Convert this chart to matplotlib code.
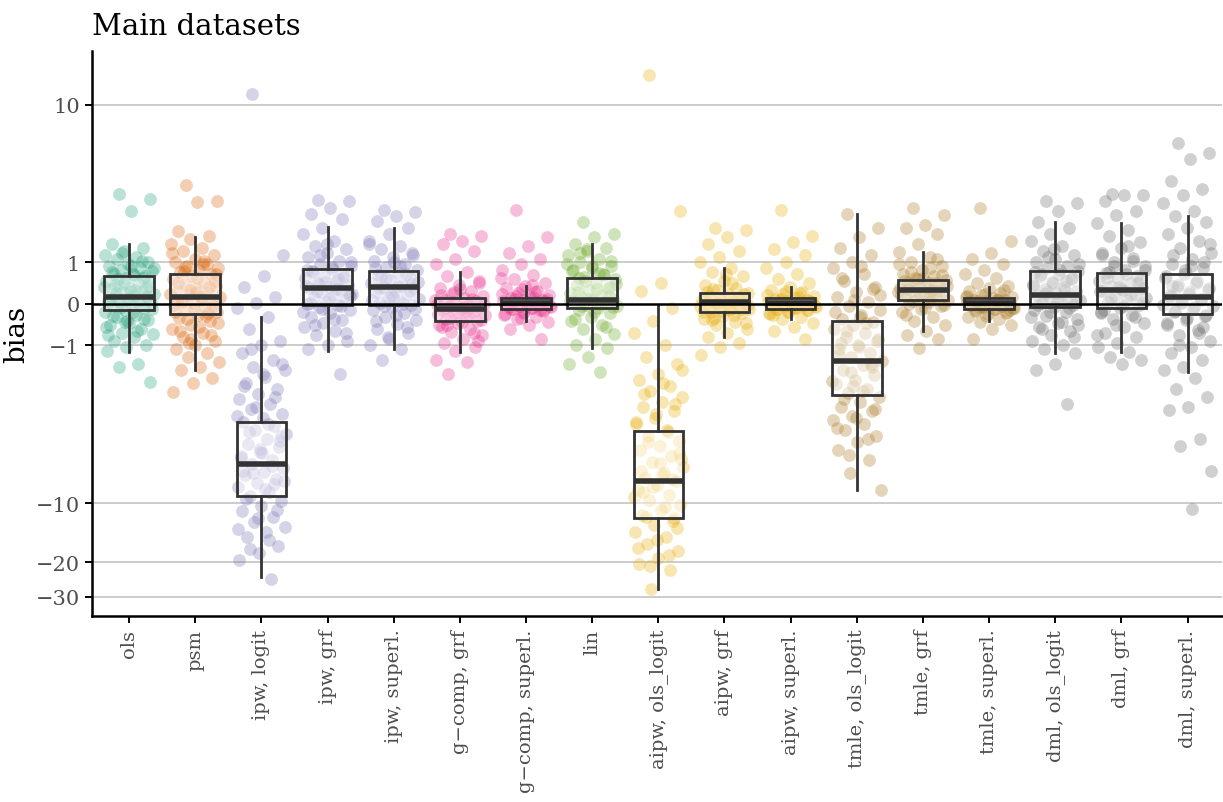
import numpy as np
import matplotlib

matplotlib.use("Agg")
import matplotlib.pyplot as plt

methods = [
    "ols", "psm", "ipw, logit", "ipw, grf", "ipw, superl.", "g\u2212comp, grf",
    "g\u2212comp, superl.", "lin", "aipw, ols_logit", "aipw, grf", "aipw, superl.",
    "tmle, ols_logit", "tmle, grf", "tmle, superl.", "dml, ols_logit", "dml, grf",
    "dml, superl.",
]
family = ["ols", "psm", "ipw", "ipw", "ipw", "gcomp", "gcomp", "lin", "aipw", "aipw",
          "aipw", "tmle", "tmle", "tmle", "dml", "dml", "dml"]

# box summaries per method
q1 = [-0.14, -0.23, -9.2, -0.02, -0.02, -0.4, -0.12, -0.09, -11.9, -0.18, -0.12,
      -2.55, 0.08, -0.12, -0.08, -0.1, -0.23]
med = [0.16, 0.16, -6.26, 0.37, 0.4, -0.12, 0.01, 0.09, -7.7, 0.04, 0.02,
       -1.42, 0.33, 0.01, 0.21, 0.33, 0.16]
q3 = [0.66, 0.71, -3.7, 0.84, 0.79, 0.14, 0.14, 0.61, -4.14, 0.26, 0.14,
      -0.4, 0.56, 0.14, 0.79, 0.74, 0.71]
whislo = [-1.17, -1.69, -23.8, -1.14, -1.1, -1.17, -0.4, -1.07, -27.4, -0.8, -0.36,
          -8.6, -0.63, -0.4, -1.2, -1.17, -1.74]
whishi = [1.51, 1.7, -0.3, 2.04, 2.0, 0.76, 0.42, 1.5, -0.02, 0.86, 0.39,
          2.5, 1.28, 0.4, 2.2, 2.17, 2.4]

# per-dataset bias estimates
ols = [3.3, 3.1, 2.6, 1.5, 1.4, 1.3, 1.2, 1.15, 1.1, 1.0, 0.95, 0.9, 0.85, 0.8, 0.78,
       0.72, 0.7, 0.66, 0.6, 0.55, 0.5, 0.45, 0.42, 0.38, 0.35, 0.3, 0.27, 0.22, 0.2,
       0.17, 0.15, 0.12, 0.1, 0.08, 0.05, 0.02, -0.02, -0.05, -0.1, -0.14, -0.18,
       -0.25, -0.3, -0.38, -0.45, -0.5, -0.6, -0.68, -0.72, -0.8, -0.9, -1.0, -1.05,
       -1.15, -1.5, -1.6, -2.07, 0.9, 0.75, 0.62, 0.48, 0.4, 0.33, 0.25, 0.18, 0.11,
       0.04, -0.03, -0.08, -0.12, -0.2, -0.28, -0.35, -0.42, -0.55, -0.65, 0.58, 0.52,
       0.3, 0.14, 1.05, 1.25, 0.85, 0.68, 0.44, 0.36, -0.4, -0.75]
psm = [3.75, 3.0, 2.95, 1.9, 1.75, 1.65, 1.5, 1.4, 1.3, 1.2, 1.1, 1.0, 0.95, 0.9, 0.85,
       0.8, 0.75, 0.7, 0.65, 0.58, 0.52, 0.47, 0.42, 0.36, 0.3, 0.25, 0.2, 0.17, 0.15,
       0.1, 0.06, 0.02, -0.03, -0.08, -0.14, -0.2, -0.25, -0.32, -0.4, -0.5, -0.6,
       -0.7, -0.8, -0.9, -1.0, -1.1, -1.2, -1.3, -1.45, -1.6, -1.7, -1.95, -2.1, -2.43,
       1.05, 0.88, 0.72, 0.6, 0.5, 0.4, 0.33, 0.22, 0.12, 0.04, -0.05, -0.12, -0.18,
       -0.28, -0.36, -0.45, -0.55, -0.65, -0.75, -0.85, 1.25, 0.95, 0.78, 0.55, 0.27,
       0.08, -0.22, -0.95]
ipw_logit = [11.4, 1.2, 0.66, 0.4, 0.15, 0.02, -0.1, -0.3, -0.6, -0.9, -1.0, -1.2, -1.4,
             -1.6, -1.7, -1.9, -2.1, -2.3, -2.5, -2.7, -2.9, -3.1, -3.3, -3.5, -3.7,
             -3.9, -4.1, -4.3, -4.6, -4.9, -5.1, -5.4, -5.7, -6.0, -6.3, -6.6, -6.9,
             -7.2, -7.5, -7.9, -8.3, -8.8, -9.2, -9.8, -10.4, -11.0, -11.8, -12.5,
             -13.2, -14.0, -15.0, -16.5, -18.0, -19.5, -24.5, -1.1, -1.5, -1.8, -2.2,
             -2.6, -3.0, -3.4, -3.8, -4.2, -4.7, -5.2, -5.8, -6.4, -7.0, -7.7, -8.5,
             -9.5, -10.8, -12.0, -13.6, -15.5, -17.2, -4.4, -5.5, -6.8, -8.0]
ipw_grf = [3.05, 3.0, 2.7, 2.5, 2.3, 2.0, 1.8, 1.6, 1.45, 1.35, 1.25, 1.15, 1.05, 0.95,
           0.9, 0.84, 0.78, 0.72, 0.66, 0.6, 0.55, 0.5, 0.45, 0.4, 0.37, 0.33, 0.28,
           0.24, 0.2, 0.15, 0.1, 0.05, 0.0, -0.03, -0.08, -0.15, -0.22, -0.3, -0.38,
           -0.45, -0.55, -0.65, -0.75, -0.9, -1.0, -1.1, -1.8, 1.2, 1.0, 0.88, 0.75,
           0.63, 0.52, 0.42, 0.35, 0.3, 0.22, 0.12, 0.02, -0.05, -0.12, -0.2, -0.35,
           -0.5, -0.7, 1.5, 0.8, 0.58, 0.47, 0.18]
ipw_superl = [2.65, 2.55, 2.4, 2.25, 2.0, 1.8, 1.6, 1.45, 1.35, 1.25, 1.15, 1.05, 0.95,
              0.88, 0.8, 0.74, 0.68, 0.62, 0.56, 0.5, 0.45, 0.4, 0.36, 0.32, 0.27, 0.22,
              0.17, 0.12, 0.07, 0.02, -0.02, -0.08, -0.15, -0.22, -0.3, -0.38, -0.48,
              -0.58, -0.7, -0.85, -1.0, -1.1, -1.4, 1.2, 1.0, 0.85, 0.72, 0.6, 0.52,
              0.43, 0.38, 0.3, 0.2, 0.1, 0.0, -0.05, -0.12, -0.25, -0.4, -0.55, -0.8,
              1.5, 0.9, 0.65, 0.47, 0.15]
gcomp_grf = [1.8, 1.75, 1.6, 1.5, 1.3, 1.1, 0.95, 0.76, 0.65, 0.55, 0.45, 0.38, 0.3,
             0.24, 0.18, 0.14, 0.1, 0.06, 0.03, 0.0, -0.03, -0.06, -0.09, -0.12, -0.15,
             -0.18, -0.22, -0.26, -0.3, -0.35, -0.4, -0.45, -0.5, -0.58, -0.66, -0.75,
             -0.85, -0.95, -1.05, -1.15, -1.4, -1.45, -1.8, 0.5, 0.35, 0.2, 0.12, 0.05,
             -0.01, -0.07, -0.1, -0.14, -0.2, -0.24, -0.28, -0.33, -0.38, -0.43, -0.55,
             -0.7, 0.27, 0.08, -0.16, -0.5, -0.9]
gcomp_superl = [2.65, 1.7, 1.45, 1.25, 1.1, 0.95, 0.8, 0.68, 0.58, 0.5, 0.42, 0.36, 0.3,
                0.25, 0.2, 0.16, 0.13, 0.1, 0.08, 0.06, 0.04, 0.02, 0.01, 0.0, -0.01,
                -0.03, -0.05, -0.07, -0.09, -0.12, -0.15, -0.19, -0.24, -0.3, -0.36,
                -0.42, -0.5, -0.6, -0.85, 0.35, 0.22, 0.15, 0.11, 0.07, 0.03, 0.01,
                -0.02, -0.04, -0.06, -0.1, -0.13, -0.17, -0.21, -0.27, 0.28, 0.18,
                0.12, 0.05, -0.08, -0.14, -0.33, 0.62, 0.45]
lin = [2.2, 1.8, 1.7, 1.5, 1.4, 1.3, 1.2, 1.1, 1.0, 0.92, 0.85, 0.78, 0.7, 0.64, 0.58,
       0.5, 0.44, 0.38, 0.32, 0.26, 0.2, 0.15, 0.11, 0.08, 0.05, 0.02, -0.02, -0.06,
       -0.1, -0.15, -0.22, -0.3, -0.4, -0.5, -0.6, -0.72, -0.85, -1.0, -1.07, -1.3,
       -1.5, -1.75, 1.25, 1.05, 0.9, 0.8, 0.68, 0.55, 0.46, 0.35, 0.28, 0.18, 0.12,
       0.06, 0.0, -0.04, -0.08, -0.18, -0.35, -0.55, 1.35, 0.95, 0.74, 0.6, 0.4]
aipw_ols = [14.2, 2.6, 0.5, 0.3, -0.1, -0.4, -0.7, -1.0, -1.3, -1.5, -1.8, -2.0, -2.2,
            -2.4, -2.6, -2.8, -3.0, -3.2, -3.5, -3.8, -4.1, -4.4, -4.7, -5.0, -5.3,
            -5.7, -6.1, -6.5, -7.0, -7.4, -7.7, -8.1, -8.6, -9.1, -9.6, -10.2, -10.8,
            -11.5, -12.3, -13.0, -14.0, -15.0, -16.2, -17.5, -19.0, -20.5, -22.0, -27.5,
            -1.7, -2.1, -2.5, -2.9, -3.3, -3.7, -4.2, -4.8, -5.5, -6.2, -6.8, -7.5,
            -8.3, -9.3, -10.5, -11.8, -13.5, -15.5, -17.0, -18.5, -21.0, -5.9, -7.2,
            -8.8, -12.0]
aipw_grf = [2.0, 1.95, 1.7, 1.5, 1.3, 1.15, 1.0, 0.86, 0.75, 0.65, 0.55, 0.45, 0.38,
            0.32, 0.26, 0.22, 0.18, 0.15, 0.12, 0.09, 0.06, 0.04, 0.02, 0.0, -0.02,
            -0.05, -0.08, -0.11, -0.14, -0.18, -0.22, -0.28, -0.35, -0.42, -0.5, -0.6,
            -0.7, -0.8, -0.95, -1.05, -1.27, 0.5, 0.35, 0.24, 0.16, 0.1, 0.05, 0.01,
            -0.03, -0.07, -0.1, -0.13, -0.16, -0.2, -0.25, -0.32, -0.45, 0.7, 0.28,
            0.14, 0.03, -0.06, -0.12, -0.38]
aipw_superl = [2.65, 1.75, 1.55, 1.35, 1.2, 1.0, 0.85, 0.7, 0.58, 0.48, 0.39, 0.33,
               0.27, 0.22, 0.18, 0.14, 0.11, 0.09, 0.07, 0.05, 0.03, 0.02, 0.01, 0.0,
               -0.01, -0.03, -0.05, -0.07, -0.09, -0.12, -0.15, -0.19, -0.24, -0.3,
               -0.36, -0.45, -0.55, -0.65, -0.85, 0.3, 0.2, 0.15, 0.1, 0.06, 0.03, 0.0,
               -0.02, -0.04, -0.06, -0.08, -0.11, -0.14, -0.18, -0.22, 0.25, 0.12,
               0.04, -0.1, -0.27]
tmle_ols = [2.5, 2.0, 1.7, 1.4, 1.2, 1.0, 0.85, 0.7, 0.55, 0.4, 0.28, 0.15, 0.05, -0.05,
            -0.15, -0.25, -0.35, -0.42, -0.5, -0.6, -0.7, -0.8, -0.9, -1.0, -1.1, -1.2,
            -1.3, -1.42, -1.55, -1.7, -1.85, -2.0, -2.15, -2.3, -2.45, -2.6, -2.8, -3.0,
            -3.2, -3.4, -3.6, -3.8, -4.1, -4.4, -4.8, -5.3, -6.0, -7.0, -8.6, 0.9, 0.6,
            0.35, 0.1, -0.2, -0.45, -0.65, -0.85, -1.05, -1.25, -1.5, -1.75, -2.05,
            -2.4, -2.7, -3.1, -3.5, -4.0, -4.6, -5.6, 0.2, -0.3, -0.95, -1.6, -2.2]
tmle_grf = [2.7, 2.45, 2.1, 2.0, 1.8, 1.5, 1.28, 1.15, 1.0, 0.9, 0.8, 0.72, 0.65, 0.6,
            0.56, 0.52, 0.48, 0.44, 0.4, 0.37, 0.33, 0.3, 0.27, 0.23, 0.19, 0.15, 0.11,
            0.08, 0.04, 0.0, -0.05, -0.12, -0.2, -0.3, -0.4, -0.5, -0.63, -0.75, -0.85,
            -1.07, 0.95, 0.85, 0.75, 0.68, 0.62, 0.54, 0.5, 0.46, 0.42, 0.38, 0.35,
            0.31, 0.25, 0.2, 0.13, 0.06, -0.02, -0.1, -0.25, 1.1, 0.58, 0.28, 0.17]
tmle_superl = [2.7, 1.6, 1.25, 1.1, 0.95, 0.82, 0.7, 0.6, 0.5, 0.42, 0.36, 0.3, 0.25,
               0.2, 0.16, 0.13, 0.1, 0.08, 0.06, 0.04, 0.02, 0.01, 0.0, -0.01, -0.03,
               -0.05, -0.07, -0.09, -0.12, -0.15, -0.19, -0.24, -0.3, -0.36, -0.42,
               -0.5, -0.6, -0.85, 0.33, 0.22, 0.15, 0.1, 0.06, 0.03, 0.0, -0.02, -0.04,
               -0.06, -0.09, -0.12, -0.16, -0.21, -0.28, 0.18, 0.08, -0.07, -0.14]
dml_ols = [3.0, 2.9, 2.6, 2.2, 2.0, 1.8, 1.6, 1.45, 1.3, 1.2, 1.1, 1.0, 0.92, 0.85,
           0.79, 0.72, 0.65, 0.58, 0.52, 0.46, 0.4, 0.35, 0.3, 0.25, 0.21, 0.17, 0.13,
           0.09, 0.05, 0.01, -0.03, -0.08, -0.14, -0.2, -0.28, -0.36, -0.45, -0.55,
           -0.65, -0.75, -0.88, -1.0, -1.1, -1.2, -1.5, -1.7, -2.9, 1.15, 0.95, 0.82,
           0.7, 0.6, 0.5, 0.42, 0.32, 0.22, 0.14, 0.06, -0.02, -0.1, -0.18, -0.3,
           -0.42, -0.6, -0.8, 1.35, 0.75, 0.55, 0.27, -0.5]
dml_grf = [3.3, 3.28, 3.25, 3.0, 2.6, 2.45, 2.17, 1.95, 1.75, 1.55, 1.4, 1.25, 1.12,
           1.0, 0.9, 0.8, 0.74, 0.67, 0.6, 0.54, 0.48, 0.42, 0.37, 0.33, 0.29, 0.24,
           0.19, 0.14, 0.09, 0.04, -0.02, -0.1, -0.18, -0.26, -0.35, -0.45, -0.55,
           -0.68, -0.8, -0.95, -1.05, -1.17, -1.3, -1.4, -1.5, 1.2, 1.05, 0.92, 0.82,
           0.7, 0.62, 0.5, 0.4, 0.31, 0.21, 0.12, 0.02, -0.06, -0.14, -0.3, -0.5, -0.75,
           1.45, 0.77, 0.56, 0.35, -0.22]
dml_superl = [6.3, 5.6, 5.2, 3.95, 3.55, 3.25, 2.9, 2.6, 2.4, 2.2, 2.0, 1.8, 1.6, 1.4,
              1.25, 1.1, 0.95, 0.85, 0.71, 0.6, 0.5, 0.4, 0.32, 0.24, 0.16, 0.1, 0.03,
              -0.05, -0.12, -0.2, -0.28, -0.38, -0.5, -0.62, -0.75, -0.9, -1.05, -1.2,
              -1.4, -1.6, -1.7, -1.95, -2.3, -2.6, -3.0, -3.15, -4.6, -5.0, -6.8, -10.7,
              1.2, 1.0, 0.8, 0.65, 0.55, 0.45, 0.36, 0.28, 0.2, 0.12, 0.05, -0.02,
              -0.08, -0.16, -0.25, -0.33, -0.45, -0.7, -1.0, 1.5, 0.9, 0.42, -0.55]

bias = [ols, psm, ipw_logit, ipw_grf, ipw_superl, gcomp_grf, gcomp_superl, lin,
        aipw_ols, aipw_grf, aipw_superl, tmle_ols, tmle_grf, tmle_superl,
        dml_ols, dml_grf, dml_superl]

# Dark2 palette, one colour per estimator family
palette = {"ols": "#1B9E77", "psm": "#D95F02", "ipw": "#7570B3", "gcomp": "#E7298A",
           "lin": "#66A61E", "aipw": "#E6AB02", "tmle": "#A6761D", "dml": "#666666"}

y_ticks = [-30, -20, -10, -1, 0, 1, 10]


def fwd(y):
    return np.arcsinh(np.asarray(y) / 2.0) / np.log(10)


def inv(y):
    return 2.0 * np.sinh(np.asarray(y) * np.log(10))


plt.rcParams["font.family"] = ["DejaVu Serif"]

fig = plt.figure(figsize=(12.23, 8.03), dpi=100)
ax = fig.add_axes([0.0752, 0.2316, 0.9240, 0.7036])
ax.set_yscale("function", functions=(fwd, inv))
ax.set_ylim(-37.5, 18.8)
ax.set_xlim(-0.56, 16.52)

for yt in y_ticks:
    if yt != 0:
        ax.axhline(yt, color="#CCCCCC", lw=1.4, zorder=0)

for i, vals in enumerate(bias):
    vals = np.asarray(vals)
    n = len(vals)
    # low-discrepancy horizontal jitter
    offs = ((np.arange(n) + 0.5) * 0.6180339887) % 1.0 * 0.76 - 0.38
    ax.scatter(i + offs, vals, s=85, color=palette[family[i]], alpha=0.3,
               linewidths=0, zorder=1)

stats = [
    {"q1": q1[i], "med": med[i], "q3": q3[i], "whislo": whislo[i], "whishi": whishi[i]}
    for i in range(len(methods))
]
ax.bxp(
    stats,
    positions=range(len(methods)),
    widths=0.75,
    showfliers=False,
    showcaps=False,
    patch_artist=True,
    boxprops=dict(facecolor=(1, 1, 1, 0.5), edgecolor="#333333", linewidth=2.0),
    whiskerprops=dict(color="#333333", linewidth=2.0),
    medianprops=dict(color="#333333", linewidth=4.0, solid_capstyle="butt"),
    zorder=2,
)

ax.axhline(0, color="black", lw=1.8, zorder=3)

ax.set_xticks(range(len(methods)))
ax.set_xticklabels(methods, rotation=90, fontsize=14, color="#4D4D4D")
ax.set_yticks(y_ticks)
ax.set_yticklabels([str(t).replace("-", "\u2212") for t in y_ticks], fontsize=15,
                   color="#4D4D4D")
ax.yaxis.set_minor_locator(matplotlib.ticker.NullLocator())
ax.tick_params(axis="both", length=5, width=1.4, color="black")
ax.tick_params(axis="x", pad=4)

for side in ("top", "right"):
    ax.spines[side].set_visible(False)
for side in ("left", "bottom"):
    ax.spines[side].set_linewidth(1.8)

ax.set_ylabel("bias", fontsize=20, labelpad=4)
ax.set_title("Main datasets", loc="left", fontsize=21, pad=12)

fig.savefig("out.png", dpi=100)
